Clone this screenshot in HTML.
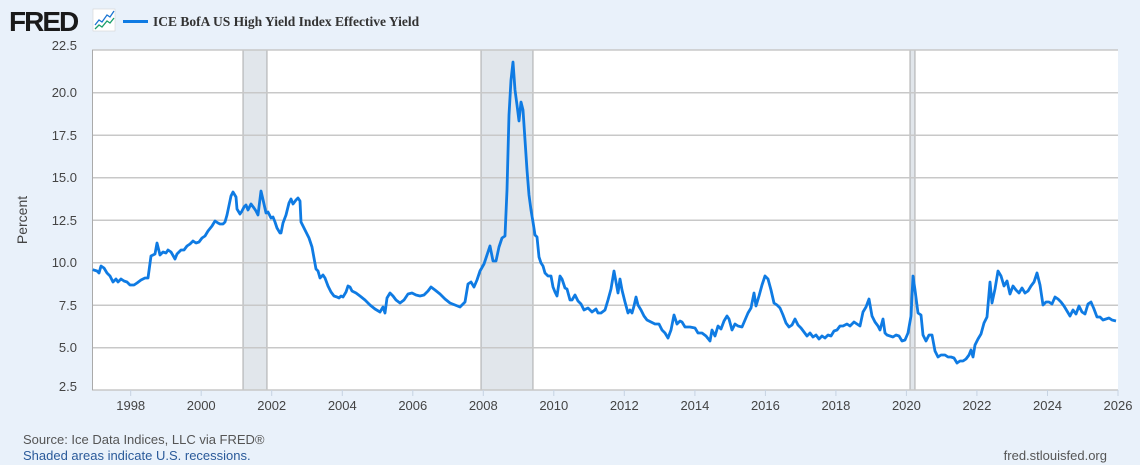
<!DOCTYPE html>
<html><head><meta charset="utf-8"><style>
body{margin:0;background:#e9f1fa;}
svg{display:block;font-family:"Liberation Sans",sans-serif;}
</style></head><body>
<svg width="1140" height="465" xmlns="http://www.w3.org/2000/svg">
<rect width="1140" height="465" fill="#e9f1fa"/>
<text x="9" y="31" font-size="28" font-weight="bold" fill="#1a1a1a" letter-spacing="-2">FRED</text>
<rect x="93" y="9" width="22" height="22" fill="#fff" stroke="#ccc" stroke-width="0.5"/>
<polyline points="95,25 99,20 102,22 107,15 110,17 114,11" fill="none" stroke="#1b75d3" stroke-width="1.3"/>
<polyline points="95,29 99,25 102,27 107,21 110,23 114,18" fill="none" stroke="#1a9e6a" stroke-width="1.3"/>
<line x1="123" y1="21.5" x2="148" y2="21.5" stroke="#0f7be3" stroke-width="3"/>
<text x="153" y="26" font-family="Liberation Serif,serif" font-size="13.5" font-weight="bold" fill="#333">ICE BofA US High Yield Index Effective Yield</text>
<rect x="92.5" y="50" width="1025.5" height="340" fill="#fff"/>
<rect x="243" y="50" width="24" height="340" fill="#e1e6eb" stroke="#999" stroke-width="0.8"/>
<rect x="481" y="50" width="52" height="340" fill="#e1e6eb" stroke="#999" stroke-width="0.8"/>
<rect x="910" y="50" width="5" height="340" fill="#e1e6eb" stroke="#999" stroke-width="0.8"/>
<g stroke="#c8c8c8" stroke-width="1.5">
<line x1="92" y1="50" x2="1118" y2="50"/><line x1="92" y1="92.7" x2="1118" y2="92.7"/><line x1="92" y1="135.2" x2="1118" y2="135.2"/><line x1="92" y1="177.7" x2="1118" y2="177.7"/><line x1="92" y1="220.2" x2="1118" y2="220.2"/><line x1="92" y1="262.7" x2="1118" y2="262.7"/><line x1="92" y1="305.2" x2="1118" y2="305.2"/><line x1="92" y1="347.7" x2="1118" y2="347.7"/><line x1="92" y1="390" x2="1118" y2="390"/>
</g>
<line x1="92.5" y1="50" x2="92.5" y2="390" stroke="#aaa" stroke-width="1"/>
<g stroke="#c6d3e2" stroke-width="1">
<line x1="130.7" y1="390" x2="130.7" y2="396"/><line x1="201.2" y1="390" x2="201.2" y2="396"/><line x1="271.7" y1="390" x2="271.7" y2="396"/><line x1="342.3" y1="390" x2="342.3" y2="396"/><line x1="412.8" y1="390" x2="412.8" y2="396"/><line x1="483.3" y1="390" x2="483.3" y2="396"/><line x1="553.8" y1="390" x2="553.8" y2="396"/><line x1="624.3" y1="390" x2="624.3" y2="396"/><line x1="694.9" y1="390" x2="694.9" y2="396"/><line x1="765.4" y1="390" x2="765.4" y2="396"/><line x1="835.9" y1="390" x2="835.9" y2="396"/><line x1="906.4" y1="390" x2="906.4" y2="396"/><line x1="976.9" y1="390" x2="976.9" y2="396"/><line x1="1047.5" y1="390" x2="1047.5" y2="396"/><line x1="1118" y1="390" x2="1118" y2="396"/>
</g>
<g font-size="13" fill="#444" text-anchor="end">
<text x="77" y="50">22.5</text><text x="77" y="97">20.0</text><text x="77" y="140">17.5</text><text x="77" y="182">15.0</text><text x="77" y="225">12.5</text><text x="77" y="267">10.0</text><text x="77" y="310">7.5</text><text x="77" y="352">5.0</text><text x="77" y="391">2.5</text>
</g>
<g font-size="13" fill="#444" text-anchor="middle">
<text x="130.7" y="410">1998</text><text x="201.2" y="410">2000</text><text x="271.7" y="410">2002</text><text x="342.3" y="410">2004</text><text x="412.8" y="410">2006</text><text x="483.3" y="410">2008</text><text x="553.8" y="410">2010</text><text x="624.3" y="410">2012</text><text x="694.9" y="410">2014</text><text x="765.4" y="410">2016</text><text x="835.9" y="410">2018</text><text x="906.4" y="410">2020</text><text x="976.9" y="410">2022</text><text x="1047.5" y="410">2024</text><text x="1118" y="410">2026</text>
</g>
<text x="27" y="220" font-size="14" fill="#444" text-anchor="middle" transform="rotate(-90 27 220)">Percent</text>
<polyline fill="none" stroke="#0f7be3" stroke-width="2.8" stroke-linejoin="round" points="92.7,269.7 97,271 99,273 101,266 104,268 107,273 110,276 113,282 116,279 118,282 121,279 124,281 127,282 130,285 134,285 137,283 141,280 145,278 148,278 151,256 155,254 157,243 160,255 163,252 166,253 168,250 171,252 175,259 177,254 181,250 184,250 187,246 190,244 193,241 196,243 199,242 202,238 205,236 208,231 212,226 215,221 218,223 220,224 223,224 225,222 227,215 231,196 233,192 236,197 237,209 240,214 242,211 244,207 246,205 248,210 251,204 254,208 256,211 258,215 261,191 264,204 266,213 268,212 271,218 273,217 275,222 277,228 280,233 281,233 283,223 286,215 289,203 291,199 293,204 296,200 298,198 300,201 301,222 304,228 307,234 309,238 312,247 316,269 318,271 320,278 323,275 325,278 328,286 331,292 334,296 337,297 339,298 341,296 343,297 346,292 348,286 350,287 352,291 356,293 360,296 365,300 370,305 375,309 380,312 383,307 385,313 387,298 390,293 393,296 396,300 400,303 404,300 408,294 412,293 416,295 420,296 424,295 428,291 431,287 435,290 440,294 445,299 450,303 455,305 460,307 465,302 468,284 471,282 474,287 477,280 480,271 484,264 487,255 490,246 493,261 496,261 499,247 502,238 505,236 507,190 509,115 511,80 513,62 515,90 517,105 519,121 521,102 523,110 525,140 527,170 529,195 531,210 533,222 535,235 537,237 539,257 541,263 543,266 545,273 548,276 551,276 553,287 555,292 557,296 560,276 562,279 565,288 567,289 570,300 572,300 575,295 578,301 581,304 584,310 588,308 592,312 596,309 598,313 601,313 605,310 608,300 611,289 614,271 616,282 618,293 620,279 622,290 625,302 628,313 630,310 632,313 634,306 636,297 638,305 641,310 644,316 647,320 651,322 655,324 659,324 662,330 665,333 668,338 671,330 674,315 677,324 680,321 682,322 685,327 690,327 695,328 698,333 702,333 706,336 710,341 712,330 715,336 718,326 721,329 724,321 727,316 729,319 732,330 735,324 738,326 742,327 745,320 748,313 751,308 754,293 756,306 759,296 762,285 765,276 768,279 771,290 774,303 777,305 780,308 783,315 786,323 789,327 792,325 795,319 798,325 801,328 804,332 807,336 810,333 813,337 816,335 819,339 822,336 825,338 828,335 831,336 834,331 837,330 840,326 843,326 847,324 850,326 854,322 857,324 860,326 863,312 866,307 869,299 872,316 875,322 878,326 880,330 883,319 885,333 887,335 890,336 893,337 896,335 899,336 902,341 905,340 908,333 911,316 913,276 915,290 918,313 921,315 923,335 926,341 929,335 932,335 935,351 938,357 941,355 945,355 948,357 951,357 954,358 957,363 960,361 963,361 966,359 969,355 971,350 973,357 975,345 978,339 981,334 984,323 987,317 990,282 992,303 995,289 998,271 1001,276 1004,286 1007,281 1010,294 1013,286 1016,290 1019,293 1022,288 1025,293 1028,291 1031,286 1034,282 1037,273 1040,285 1043,305 1046,302 1049,302 1052,304 1055,297 1058,299 1061,302 1064,306 1067,311 1070,316 1073,310 1076,314 1079,306 1082,312 1085,314 1088,304 1091,302 1094,309 1097,317 1100,317 1103,320 1106,319 1109,318 1112,320 1116,321"/>
<text x="23" y="444" font-size="13" fill="#555">Source: Ice Data Indices, LLC via FRED®</text>
<text x="23" y="460" font-size="13" fill="#2a5a9a">Shaded areas indicate U.S. recessions.</text>
<text x="1107" y="460" font-size="13" fill="#555" text-anchor="end">fred.stlouisfed.org</text>
</svg>
</body></html>
